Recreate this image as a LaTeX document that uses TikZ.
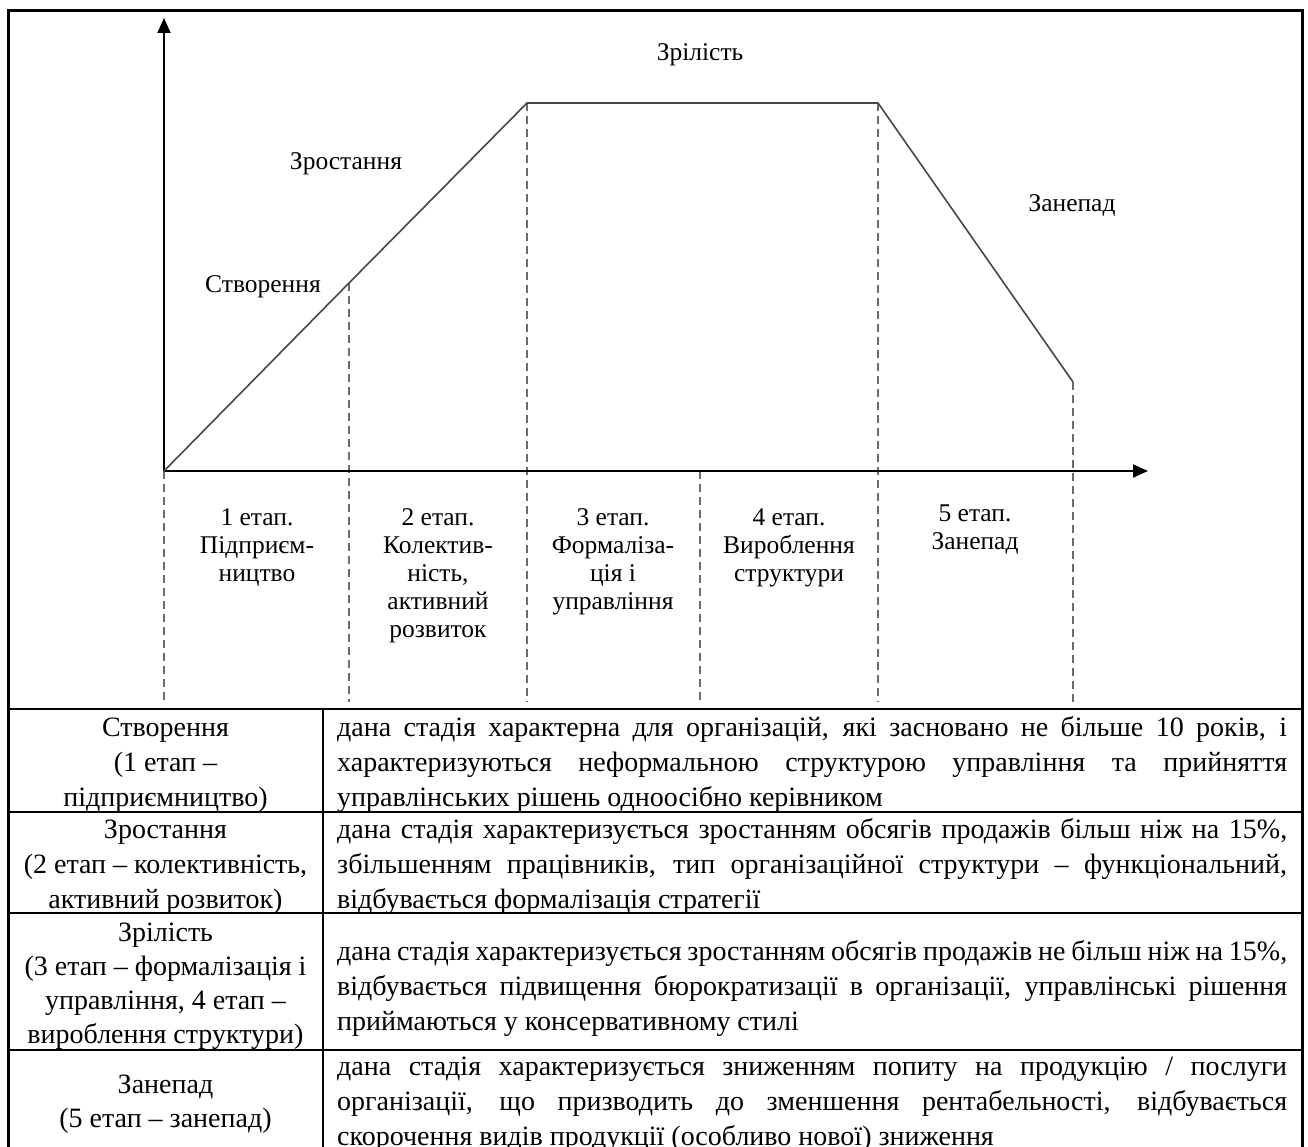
\documentclass[tikz,border=0pt]{standalone}
\usepackage{fontspec}
\setmainfont{Liberation Serif}
\usetikzlibrary{arrows.meta}
% one justified line of a description cell
\newcommand\jline[1]{\makebox[950pt][s]{#1}}

\begin{document}
\begin{tikzpicture}[x=1pt,y=-1pt,
  frameline/.style={line width=3pt, black},
  gridline/.style={line width=2.6pt, black},
  axisline/.style={line width=2pt, black, -{Triangle[length=15pt,width=13pt]}},
  lifeline/.style={line width=1.6pt, black!72},
  stagedash/.style={line width=2pt, black!58, dash pattern=on 8pt off 5pt},
  chartlbl/.style={font=\fontsize{25.5}{28}\selectfont, inner sep=0pt},
  celltxt/.style={font=\fontsize{28}{35}\selectfont, inner sep=0pt},
]
\useasboundingbox (0,0) rectangle (1308,1147);
\fill[white] (0,0) rectangle (1308,1147);

% ---------- life-cycle chart ----------
\coordinate (O) at (164,471);
\coordinate (Ytop) at (164,18);
\coordinate (Xend) at (1148,471);
\coordinate (A) at (349,283);
\coordinate (B) at (527,103);
\coordinate (C) at (878,103);
\coordinate (D) at (1073,382);
\coordinate (M) at (700,471);
\coordinate (Ob) at (164,702);
\coordinate (Ab) at (349,702);
\coordinate (Bb) at (527,702);
\coordinate (Mb) at (700,702);
\coordinate (Cb) at (878,702);
\coordinate (Db) at (1073,702);

% stage borders
\draw[stagedash] (O) -- (Ob);
\draw[stagedash] (A) -- (Ab);
\draw[stagedash] (B) -- (Bb);
\draw[stagedash] (M) -- (Mb);
\draw[stagedash] (C) -- (Cb);
\draw[stagedash] (D) -- (Db);

% axes
\draw[axisline] (O) -- (Ytop);
\draw[axisline] (O) -- (Xend);

% development curve
\draw[lifeline] (O) -- (A) -- (B) -- (C) -- (D);

% phase names
\node[chartlbl] (lblMat)  at (700,55)  {Зрілість};
\node[chartlbl] (lblGrow) at (346,164) {Зростання};
\node[chartlbl] (lblCre)  at (263,287) {Створення};
\node[chartlbl] (lblDec)  at (1072,206) {Занепад};

% stage captions under the axis
\foreach \t [count=\i] in {1 етап.,Підприєм-,ництво}
  \node[chartlbl, anchor=base] (st1l\i) at ({257},{525+28*(\i-1)}) {\t};
\foreach \t [count=\i] in {2 етап.,Колектив-,{ність,},активний,розвиток}
  \node[chartlbl, anchor=base] (st2l\i) at ({438},{525+28*(\i-1)}) {\t};
\foreach \t [count=\i] in {3 етап.,Формаліза-,ція і,управління}
  \node[chartlbl, anchor=base] (st3l\i) at ({613},{525+28*(\i-1)}) {\t};
\foreach \t [count=\i] in {4 етап.,Вироблення,структури}
  \node[chartlbl, anchor=base] (st4l\i) at ({789},{525+28*(\i-1)}) {\t};
\foreach \t [count=\i] in {5 етап.,Занепад}
  \node[chartlbl, anchor=base] (st5l\i) at ({975},{521+28*(\i-1)}) {\t};

% ---------- frame and table ----------
\draw[frameline] (8,1160) -- (8,11) -- (1302,11) -- (1302,1160);
\draw[gridline] (8,709) -- (1302,709);
\draw[gridline] (8,812) -- (1302,812);
\draw[gridline] (8,913) -- (1302,913);
\draw[gridline] (8,1050) -- (1302,1050);
\draw[gridline] (323,709) -- (323,1160);

% left column: stage names
\foreach \t [count=\i] in {Створення,{(1 етап –},{підприємництво)}}
  \node[celltxt, anchor=base] (c1l\i) at ({165.5},{736+35*(\i-1)}) {\t};
\foreach \t [count=\i] in {Зростання,{(2 етап – колективність,},{активний розвиток)}}
  \node[celltxt, anchor=base] (c2l\i) at ({165.5},{838+35*(\i-1)}) {\t};
\foreach \t [count=\i] in {Зрілість,{(3 етап – формалізація і},{управління, 4 етап –},{вироблення структури)}}
  \node[celltxt, anchor=base] (c3l\i) at ({165.5},{941+34.3*(\i-1)}) {\t};
\foreach \t [count=\i] in {Занепад,{(5 етап – занепад)}}
  \node[celltxt, anchor=base] (c4l\i) at ({165.5},{1093+34*(\i-1)}) {\t};

% right column: descriptions (justified lines, last line ragged)
\foreach \t [count=\i] in {
  {\jline{дана стадія характерна для організацій, які засновано не більше 10 років, і}},
  {\jline{характеризуються неформальною структурою управління та прийняття}},
  {управлінських рішень одноосібно керівником}}
  \node[celltxt, anchor=base west] (d1l\i) at ({337},{736+35*(\i-1)}) {\t};
\foreach \t [count=\i] in {
  {\jline{дана стадія характеризується зростанням обсягів продажів більш ніж на 15\%,}},
  {\jline{збільшенням працівників, тип організаційної структури – функціональний,}},
  {відбувається формалізація стратегії}}
  \node[celltxt, anchor=base west] (d2l\i) at ({337},{838+35*(\i-1)}) {\t};
\foreach \t [count=\i] in {
  {\jline{дана стадія характеризується зростанням обсягів продажів не більш ніж на 15\%,}},
  {\jline{відбувається підвищення бюрократизації в організації, управлінські рішення}},
  {приймаються у консервативному стилі}}
  \node[celltxt, anchor=base west] (d3l\i) at ({337},{960+35*(\i-1)}) {\t};
\foreach \t [count=\i] in {
  {\jline{дана стадія характеризується зниженням попиту на продукцію / послуги}},
  {\jline{організації, що призводить до зменшення рентабельності, відбувається}},
  {скорочення видів продукції (особливо нової) зниження}}
  \node[celltxt, anchor=base west] (d4l\i) at ({337},{1075+35*(\i-1)}) {\t};
\end{tikzpicture}
\end{document}
